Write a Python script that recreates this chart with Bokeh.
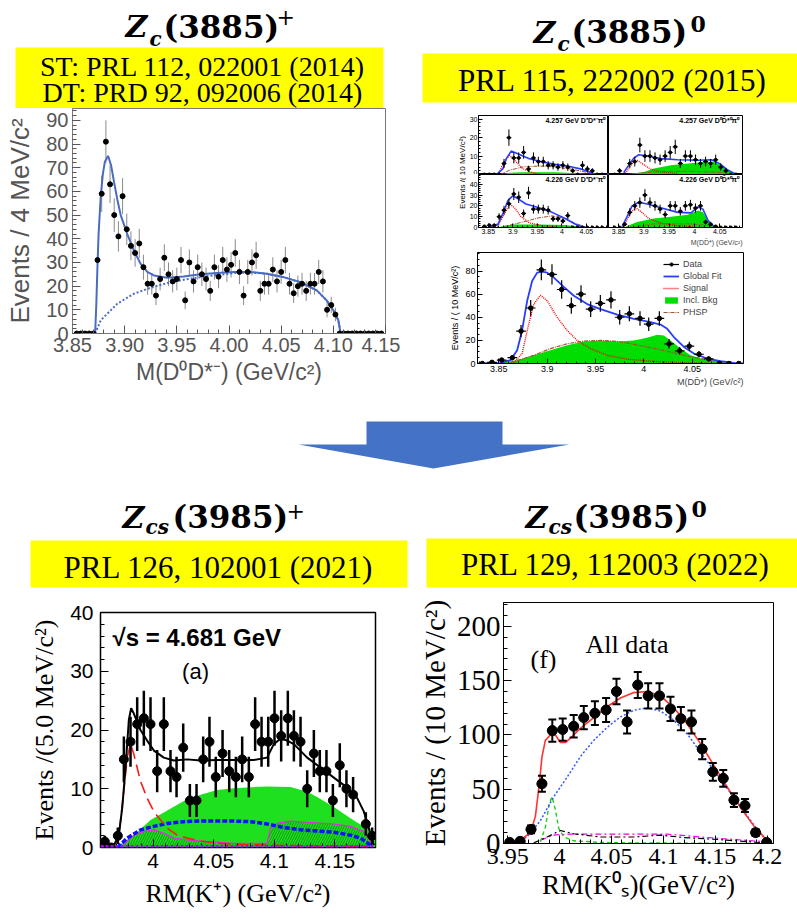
import numpy as np
from bokeh.plotting import figure
from bokeh.layouts import row, column
from bokeh.models import (Range1d, FixedTicker, NumeralTickFormatter, CustomJSTickFormatter,
                          Legend, LegendItem, Span, Title)
from bokeh.core.properties import value
from bokeh.embed import file_html
from bokeh.resources import INLINE

# ======================= DATA =======================
# --- Zc(3885)+ : M(D0 D*-), 4 MeV bins ---
zcp_first_center = 3.854
zcp_bin = 0.004
zcp_counts = [0, 0, 0, 0, 0,
              31, 59, 81, 63, 50, 41, 58, 44, 37, 34,
              38, 28, 21, 21, 16, 23, 32, 25, 22, 23,
              31, 14, 30, 22, 28, 25, 23, 18, 28, 24,
              31, 27, 29, 34, 26, 16, 26, 30, 33, 18,
              21, 21, 27, 22, 26, 31, 21, 17, 20, 21,
              18, 21, 21, 26, 22, 10, 12, 8,
              0, 0, 0, 0, 0, 0, 0, 0, 0, 0, 0]
zcp_fit_x = [3.8717, 3.8728, 3.8739, 3.875, 3.8771, 3.879, 3.881, 3.8841, 3.887, 3.8898,
             3.893, 3.8962, 3.9025, 3.9089, 3.9153, 3.9217, 3.928, 3.9408, 3.9567, 3.9726,
             3.9885, 4.0045, 4.0204, 4.0363, 4.0522, 4.0682, 4.0841, 4.0936, 4.10, 4.1048, 4.107]
zcp_fit_y = [0, 12, 28, 42, 58, 67, 72.5, 75, 71, 64,
             56.5, 50, 42, 35, 29.4, 26, 24.5, 23.5, 24.1, 25,
             25.5, 26, 26, 25.2, 23.8, 21.7, 18.2, 14, 9.8, 5.6, 0]
zcp_bkg_x = [3.8717, 3.8771, 3.893, 3.9089, 3.9248, 3.9408, 3.9567, 3.9726, 3.9885, 4.0045,
             4.0204, 4.0363, 4.0522, 4.0682, 4.0841, 4.0936, 4.10, 4.1048, 4.107]
zcp_bkg_y = [0, 5.6, 12.6, 16.8, 19.3, 21.3, 22.7, 23.8, 24.7, 25.5,
             25.8, 25.2, 23.8, 21.7, 18.2, 14, 9.8, 5.6, 0]

# --- Zc(3885)0 : four small panels, 10 MeV bins ---
sm_x = [3.842, 3.852, 3.862, 3.872, 3.882, 3.892, 3.902, 3.912, 3.922, 3.932, 3.942, 3.952,
        3.962, 3.972, 3.982, 3.992, 4.002, 4.012, 4.022, 4.032, 4.042, 4.052, 4.062, 4.072, 4.082]
s1_counts = [0, 0, 0, 0, 6, 20, 9, 9, 12, 3, 9, 7, 7, 5, 5, 4, 5, 4, 2, 0, 5, 3, 2, 0, 0]
s2_counts = [0, 2, 0, 6, 7, 16, 10, 10, 9, 8, 10, 12, 15, 6, 10, 10, 8, 6, 7, 6, 8, 4, 2, 0, 0]
s3_counts = [1, 2, 2, 10, 16, 22, 31, 28, 13, 32, 17, 17, 17, 16, 8, 8, 6, 11, 0, 0, 0, 0, 0, 0, 0]
s4_counts = [0, 0, 3, 14, 20, 23, 30, 23, 20, 17, 12, 20, 20, 15, 20, 21, 18, 20, 5, 3, 1, 0, 0, 0, 0]

s1_fit = ([3.8667, 3.88, 3.8867, 3.8967, 3.91, 3.9334, 3.96, 3.9867, 4.0134, 4.04, 4.06, 4.07],
          [0, 3.2, 8.6, 12.7, 11.2, 8.6, 6.8, 5.5, 4.5, 2.9, 0.9, 0])
s1_sig = ([3.87, 3.8834, 3.8934, 3.9034, 3.92, 3.94, 3.96], [0, 7.7, 10.4, 7.7, 3.2, 1, 0])
s1_phsp = ([3.8734, 3.8934, 3.92, 3.9534, 3.9867, 4.02, 4.0534, 4.0667], [0, 2.3, 4.1, 4.6, 4.1, 2.9, 1, 0])
s1_bkg = ([3.8734, 3.8934, 3.92, 3.9867, 4.02, 4.0534, 4.0667], [0, 1, 1.2, 1.2, 0.8, 0.4, 0])

s2_fit = ([3.86, 3.87, 3.88, 3.89, 3.9067, 3.9334, 3.9667, 4.0067, 4.0334, 4.05, 4.0667, 4.0801],
          [1, 5, 8.9, 10.7, 10, 8.6, 8, 7.7, 8, 5.9, 2.3, 0.4])
s2_sig = ([3.8633, 3.8767, 3.8867, 3.8967, 3.9134, 3.9334, 3.9667], [0.5, 5.9, 7.7, 5.9, 2.9, 1.4, 0.5])
s2_phsp = ([3.8667, 3.92, 3.9867, 4.0534, 4.0801], [0, 1.4, 1.8, 1.1, 0])
s2_bkg = ([3.8633, 3.90, 3.92, 3.9534, 3.9867, 4.02, 4.04, 4.0534, 4.07, 4.0801],
          [0, 1.4, 3.2, 5, 5.9, 6.8, 6.8, 5, 1.4, 0])

s3_fit = ([3.8533, 3.87, 3.88, 3.89, 3.90, 3.91, 3.9267, 3.9534, 3.98, 4.0067, 4.0267, 4.04, 4.0534],
          [0.3, 3.3, 13, 25, 29.3, 26.7, 21.7, 18.3, 14, 8.3, 3.3, 0.7, 0])
s3_sig = ([3.86, 3.87, 3.8834, 3.8934, 3.9034, 3.9167, 3.9334, 3.96, 3.9867],
          [0, 1.7, 13, 21.7, 18.3, 10, 4.3, 1.7, 0.7])
s3_phsp = ([3.88, 3.92, 3.9534, 3.98, 4.0067, 4.0267, 4.0467], [0.7, 5, 9, 10.7, 8.3, 4, 0.7])
s3_bkg = ([3.8734, 3.90, 3.9534, 4.0067, 4.04, 4.0467], [0.7, 2.7, 2.7, 2.3, 0.7, 0])

s4_fit = ([3.8567, 3.8667, 3.8767, 3.89, 3.9067, 3.9334, 3.9667, 3.9934, 4.0067, 4.0167, 4.0267, 4.0367, 4.0467],
          [0.7, 10, 20, 23.3, 21.7, 18.3, 14, 13.5, 19, 17, 6.7, 1.7, 0])
s4_sig = ([3.86, 3.8734, 3.8834, 3.8934, 3.91, 3.9334, 3.9667, 4.00], [0.7, 13.3, 18.3, 15, 8.3, 4, 1.7, 0.7])
s4_phsp = ([3.8734, 3.92, 3.9867, 4.0334, 4.0534], [0, 3.3, 3.3, 1.7, 0])
s4_bkg = ([3.86, 3.8867, 3.92, 3.9534, 3.9867, 4.0067, 4.0167, 4.0267, 4.0367],
          [0, 5, 8.3, 10, 11.7, 15.7, 14, 6.7, 0.7])

s_labels = ["4.257 GeV D\u207aD*\u207b\u03c0\u2070", "4.257 GeV D\u2070D\u0304*\u2070\u03c0\u2070",
            "4.226 GeV D\u207aD*\u207b\u03c0\u2070", "4.226 GeV D\u2070D\u0304*\u2070\u03c0\u2070"]

# --- Zc(3885)0 : combined panel ---
bg_x = [3.833, 3.843, 3.853, 3.864, 3.873, 3.883, 3.894, 3.905, 3.915, 3.925,
        3.935, 3.945, 3.955, 3.966, 3.975, 3.985, 3.996, 4.005, 4.016, 4.026,
        4.037, 4.047, 4.057, 4.067, 4.078, 4.088, 4.098]
bg_counts = [0, 1, 3, 5, 28, 48, 81, 77, 64, 50, 60, 47, 52, 55, 40, 43, 39, 34, 39, 17,
             11, 15, 8, 4, 0, 0, 0]
bg_fit = ([3.8276, 3.8517, 3.8621, 3.869, 3.8741, 3.8793, 3.8845, 3.8897, 3.8948, 3.9,
           3.9069, 3.9172, 3.9276, 3.9414, 3.9552, 3.9724, 3.9897, 4.0069, 4.0172, 4.0241,
           4.031, 4.0414, 4.0517, 4.0655, 4.0793, 4.0931, 4.1034],
          [0, 0.6, 2.9, 11.4, 28.6, 54, 71.4, 78.6, 79.4, 78.6,
           74.3, 66.3, 58.6, 51.4, 47, 42.3, 38.6, 35.7, 33.7, 30,
           22.9, 14.3, 8.6, 4.3, 2, 0.6, 0])
bg_sig = ([3.8655, 3.8741, 3.881, 3.8862, 3.8931, 3.9, 3.9103, 3.9207, 3.931, 3.9448,
           3.9621, 3.9828, 4.0069, 4.0414, 4.0759],
          [0.6, 8.6, 34.3, 51.4, 59, 54.3, 40, 28.6, 20, 12.9, 7.1, 3.7, 2, 0.6, 0])
bg_bkg = ([3.8517, 3.869, 3.8862, 3.9034, 3.9207, 3.9379, 3.9552, 3.9724, 3.9897, 4.0034,
           4.0138, 4.0207, 4.0276, 4.0379, 4.0483, 4.0586, 4.0759, 4.0931, 4.1034],
          [0.6, 2.9, 7.1, 11.4, 15.7, 19.1, 20, 19.1, 20, 22.3,
           24.9, 24.3, 20, 12.9, 7.1, 4.3, 2, 0.6, 0])
bg_phsp = ([3.8621, 3.8862, 3.9034, 3.9207, 3.9379, 3.9552, 3.9724, 3.9897, 4.0069, 4.0241,
            4.0414, 4.0586, 4.0759, 4.0931],
           [0.6, 7.1, 12.9, 17.1, 19.4, 20, 19.1, 16.6, 13.7, 10.6, 7.1, 4.3, 2, 0.6])

# --- Zcs(3985)+ : RM(K+) ---
zsp_x = [3.9601, 3.9653, 3.9708, 3.9758, 3.9813, 3.9868, 3.9923, 3.9978, 4.0033, 4.0088,
         4.0143, 4.0193, 4.0248, 4.0303, 4.0358, 4.0413, 4.0465, 4.0517, 4.0573, 4.0628,
         4.0683, 4.0735, 4.079, 4.0842, 4.0895, 4.095, 4.1002, 4.1057, 4.1112, 4.1162,
         4.1217, 4.1272, 4.1327, 4.1376, 4.1431, 4.1484, 4.1541, 4.1596, 4.1651, 4.1756, 4.1808]
zsp_counts = [1, 0, 2, 15, 18, 21, 22, 21, 13, 21, 13, 12, 17, 8, 8, 15, 18, 12, 16, 13,
              12, 15, 12, 21, 18, 18, 22, 19, 22, 19, 18, 10, 16, 13, 13, 8, 14, 10, 9, 4, 2]
zsp_fit = ([3.9601, 3.9675, 3.9716, 3.9744, 3.9772, 3.9799, 3.9818, 3.984, 3.9895, 3.995,
            4.0006, 4.0088, 4.0171, 4.0281, 4.0391, 4.0528, 4.0666, 4.0831, 4.0941, 4.0996,
            4.1051, 4.1107, 4.1162, 4.1272, 4.1382, 4.1492, 4.1602, 4.1685, 4.174, 4.1781, 4.1822],
           [0.5, 0.4, 2, 6.7, 13.6, 21.7, 23.7, 22.8, 20, 18.2,
            16.5, 15.3, 14.8, 15, 14.8, 14.9, 14.9, 14.9, 15.3, 17.6,
            18.5, 18.2, 17.6, 15.3, 13.6, 11.9, 10.2, 8.4, 6.1, 3.3, 0.4])
zsp_sig = ([3.9675, 3.9716, 3.9752, 3.9785, 3.9813, 3.984, 3.9895, 3.995, 4.0006, 4.0061,
            4.0116, 4.0198, 4.0281, 4.0391, 4.0556, 4.0721, 4.0941, 4.1217, 4.1767],
           [0.1, 2, 8.4, 15.3, 17.6, 15.9, 11.3, 8.4, 6.1, 4.7, 3.3, 2.1, 1.6, 1.1, 0.7, 0.5, 0.4, 0.3, 0.2])
zsp_bkg = ([3.9689, 3.984, 3.9978, 4.0116, 4.0253, 4.0391, 4.0528, 4.0666, 4.0941, 4.1134,
            4.1272, 4.1354, 4.1492, 4.1629, 4.1767, 4.1836],
           [0, 2.1, 4.7, 6.3, 7.9, 9.0, 9.8, 10.1, 10.4, 10.3, 9.5, 8.6, 6.9, 5.0, 3.2, 2.2])
zsp_blue = ([3.9703, 3.9785, 3.9895, 4.0006, 4.0116, 4.0253, 4.0391, 4.0666, 4.0804, 4.0941,
             4.1079, 4.1217, 4.1354, 4.1492, 4.1629, 4.1712, 4.1795],
            [0, 1.6, 3, 3.6, 4.1, 4.4, 4.5, 4.5, 4.4, 4, 3.4, 3, 2.8, 2.6, 2.1, 1.6, 0.4])
zsp_hatch = ([3.973, 3.984, 3.9923, 4.0006, 4.0088, 4.0171, 4.0281, 4.0391, 4.0666, 4.0941,
              4.0969, 4.1024, 4.1134, 4.1272, 4.1492, 4.1629, 4.174, 4.1795, 4.181],
             [0, 2.1, 2.7, 3, 2.4, 1.6, 1.3, 1.1, 0.7, 0.7, 3.3, 4.1, 4.5, 4.3, 4, 3.6, 2.7, 1, 0])

# --- Zcs(3985)0 : RM(K0S) ---
zs0_x = [3.952, 3.962, 3.9725, 3.983, 3.993, 4.003, 4.0136, 4.0233, 4.034, 4.0448,
         4.0548, 4.065, 4.0753, 4.0853, 4.0962, 4.1068, 4.1168, 4.127, 4.1373, 4.1476,
         4.1576, 4.1679, 4.1785, 4.1888, 4.1994]
zs0_counts = [1, 2, 13, 55, 104, 105, 108, 116, 120, 123, 140, 112, 146, 136, 136, 124,
              115, 112, 87, 66, 60, 40, 35, 10, 1]
zs0_fit = ([3.95, 3.9622, 3.9719, 3.9767, 3.9799, 3.9831, 3.9863, 3.9911, 3.996, 4.0008,
            4.0056, 4.0104, 4.02, 4.0329, 4.0458, 4.0586, 4.0715, 4.0843, 4.0972, 4.11,
            4.1229, 4.1357, 4.1486, 4.1614, 4.1743, 4.1872, 4.1968, 4.2032],
           [0, 3, 10, 25, 50, 80, 95, 100, 100, 93, 93, 97, 106, 116, 126, 134, 139, 140, 136, 125,
            110, 92, 72, 52, 33, 16, 6, 0])
zs0_bkg = ([3.9558, 3.9686, 3.9815, 3.9943, 4.0072, 4.02, 4.0329, 4.0458, 4.0586, 4.0715,
            4.0843, 4.0972, 4.11, 4.1229, 4.1357, 4.1486, 4.1614, 4.1743, 4.1872, 4.2],
           [0, 6, 21, 43, 61, 80, 95, 107, 116.6, 122.7, 125, 122, 113.5, 101, 84, 67.5, 50.6,
            33.7, 17, 1.5])
zs0_sig = ([3.9815, 3.9863, 3.9902, 3.9927, 3.996, 3.9992, 4.004, 4.0136, 4.0393, 4.0715, 4.1357, 4.2],
           [1.5, 15, 37, 43, 31, 14, 6, 2.5, 1, 0.5, 0.3, 0])
zs0_dd = ([3.9751, 3.9879, 4.0008, 4.0136, 4.0393, 4.0715, 4.0972, 4.1197, 4.1518, 4.1839, 4.2],
          [0.6, 6, 12, 9, 6, 6, 7.7, 5.5, 3.7, 1.5, 0])
zs0_mg = ([3.9815, 3.9943, 4.0072, 4.0393, 4.0715, 4.1036, 4.1357, 4.1679, 4.2],
          [3, 7.7, 8.6, 8.6, 8.6, 8.6, 6, 3.7, 1.5])

# ======================= STYLE / HELPERS =======================
SANS = "Liberation Sans"
SERIF = "Liberation Serif"
TFONT = "DejaVu Serif"
YELLOW = "#ffff00"
ARROW = "#4472c4"
GREEN = "#00dd00"
BLUE = "#2a3cff"
BROWN = "#a0522d"


def deco(w, h, flip=True):
    p = figure(width=w, height=h, x_range=Range1d(0, w),
               y_range=Range1d(h, 0) if flip else Range1d(0, h),
               output_backend="svg", toolbar_location=None,
               x_axis_location=None, y_axis_location=None,
               min_border_left=0, min_border_right=0, min_border_top=0, min_border_bottom=0)
    p.outline_line_color = None
    p.xgrid.visible = False
    p.ygrid.visible = False
    return p


def put(p, x, y, s, size, font=SERIF, style="normal", align="left", color="black", angle=0.0):
    # (x, y) is the visual centre line of the text
    p.text(x=[x], y=[y], text=[s], text_font=value(font), text_font_size=value(f"{size}px"),
           text_font_style=style, text_align=align, text_baseline="middle",
           text_color=color, angle=angle)


def zc_title(p, xZ, xsub, xnum, xsup, cy, sub_cy, sup_cy, sub, num, sup, sup_style, sup_size):
    put(p, xZ, cy, "Z", 30, TFONT, "bold italic")
    put(p, xsub, sub_cy, sub, 20, TFONT, "bold italic")
    put(p, xnum, cy, num, 31, TFONT, "bold")
    put(p, xsup, sup_cy, sup, sup_size, TFONT, sup_style)


def chart(w, h, xr, yr, bl, br, bt, bb, x_loc="below", y_loc="left"):
    p = figure(width=w, height=h, x_range=Range1d(xr[0], xr[1]), y_range=Range1d(yr[0], yr[1]),
               output_backend="svg", toolbar_location=None,
               x_axis_location=x_loc, y_axis_location=y_loc,
               min_border_left=bl, min_border_right=br, min_border_top=bt, min_border_bottom=bb)
    p.xgrid.visible = False
    p.ygrid.visible = False
    p.outline_line_color = "black"
    return p


def axis_style(ax, ticks, minor, font, size, color="black", tin=8, mtin=4, standoff=4, fmt=None,
               label=None, lfont=None, lsize=None, lcolor=None, lstand=5):
    ax.ticker = FixedTicker(ticks=list(ticks), minor_ticks=list(minor))
    ax.major_tick_in = tin
    ax.major_tick_out = 0
    ax.minor_tick_in = mtin
    ax.minor_tick_out = 0
    ax.major_label_text_font = font
    ax.major_label_text_font_size = f"{size}px"
    ax.major_label_text_color = color
    ax.major_label_standoff = standoff
    ax.axis_line_color = color
    ax.major_tick_line_color = color
    ax.minor_tick_line_color = color
    if fmt is not None:
        ax.formatter = fmt
    if label is not None:
        ax.axis_label = label
        ax.axis_label_text_font = lfont or font
        ax.axis_label_text_font_size = f"{lsize}px"
        ax.axis_label_text_font_style = "normal"
        ax.axis_label_text_color = lcolor or color
        ax.axis_label_standoff = lstand


TRIM = CustomJSTickFormatter(code="return Number(tick.toFixed(3)).toString();")


def frange(a, b, s):
    return np.round(np.arange(a, b + s / 2, s), 4).tolist()


def box(p):
    # wrap a plot so that Bokeh does not align its frame with its siblings
    return row(p)


# ======================= TOP LEFT =======================
h1 = deco(400, 108)
h1.quad(left=[15], right=[383], top=[47], bottom=[108], fill_color=YELLOW, line_color=None)
zc_title(h1, 125, 149, 163, 276, 26, 38, 16, "c", "(3885)", "+", "normal", 22)
put(h1, 202, 65.5, "ST: PRL 112, 022001 (2014)", 28, align="center")
put(h1, 202, 91.5, "DT: PRD 92, 092006 (2014)", 28, align="center")

p1 = chart(400, 290, (3.85, 4.15), (0, 95), 72, 15, 0, 65)
p1.outline_line_color = "#777777"
axis_style(p1.xaxis, [3.85, 3.90, 3.95, 4.00, 4.05, 4.10, 4.15], frange(3.85, 4.15, 0.01), SANS, 20,
           "#555555", tin=8, mtin=4, standoff=4, fmt=NumeralTickFormatter(format="0.00"),
           label="M(D\u2070D*\u207b) (GeV/c\u00b2)", lsize=23, lstand=4)
axis_style(p1.yaxis, list(range(0, 91, 10)), list(range(0, 95, 2)), SANS, 20, "#555555",
           tin=8, mtin=4, standoff=4, label="Events / 4 MeV/c\u00b2", lsize=26, lstand=8)
p1.xaxis.axis_line_color = "#777777"
p1.yaxis.axis_line_color = "#777777"
zcp_x = zcp_first_center + zcp_bin * np.arange(len(zcp_counts))
zcp_y = np.array(zcp_counts, dtype=float)
zcp_e = np.sqrt(zcp_y)
p1.segment(x0=zcp_x, y0=zcp_y - zcp_e, x1=zcp_x, y1=zcp_y + zcp_e, line_color="#8a8a8a", line_width=1)
p1.line(zcp_bkg_x, zcp_bkg_y, line_color="#4a6cc0", line_width=2, line_dash="2 2")
p1.line(zcp_fit_x, zcp_fit_y, line_color="#4a6cc0", line_width=2)
p1.scatter(zcp_x, zcp_y, size=5, color="black")

# ======================= TOP RIGHT =======================
h2 = deco(397, 108)
h2.quad(left=[22], right=[397], top=[53], bottom=[102], fill_color=YELLOW, line_color=None)
zc_title(h2, 133, 157, 171, 290, 31.5, 43, 23.5, "c", "(3885)", "0", "bold", 22)
put(h2, 212, 79.5, "PRL 115, 222002 (2015)", 31, align="center")

ylab = deco(66, 141, flip=False)
put(ylab, 62, 77, "Events /( 10 MeV/c\u00b2)", 8, SANS, angle=np.pi / 2, align="center")


def small(w, h, bl, br, bt, bb, ytop, yticks, counts, fit, sig, bkg, phsp, label, left, bottom):
    p = chart(w, h, (3.83, 4.095), (0, ytop), bl, br, bt, bb,
              x_loc="below" if bottom else None, y_loc="left" if left else None)
    if left:
        axis_style(p.yaxis, yticks, frange(0, ytop, 2), SANS, 7, tin=4, mtin=2, standoff=1)
    if bottom:
        axis_style(p.xaxis, [3.85, 3.9, 3.95, 4.0, 4.05], frange(3.83, 4.09, 0.01), SANS, 7,
                   tin=4, mtin=2, standoff=1, fmt=TRIM)
    p.varea(x=bkg[0], y1=0, y2=bkg[1], fill_color=GREEN)
    p.line(phsp[0], phsp[1], line_color=BROWN, line_dash="4 1 1 1", line_width=1)
    p.line(sig[0], sig[1], line_color="red", line_dash="1 1", line_width=1.3)
    p.line(fit[0], fit[1], line_color=BLUE, line_width=1.6)
    xs = np.array(sm_x)
    ys = np.array(counts, dtype=float)
    es = np.sqrt(ys)
    p.segment(x0=xs, y0=ys - es, x1=xs, y1=ys + es, line_color="black", line_width=1)
    p.segment(x0=xs - 0.005, y0=ys, x1=xs + 0.005, y1=ys, line_color="black", line_width=1)
    p.scatter(xs, ys, size=3, color="black")
    p.text(x=[4.088], y=[ytop * 0.97], text=[label], text_align="right", text_baseline="top",
           text_font=value(SANS), text_font_size=value("7px"), text_font_style="bold")
    return p


sTL = small(142, 66, 10, 0, 7, 0, 32, [0, 10, 20, 30], s1_counts, s1_fit, s1_sig, s1_bkg, s1_phsp,
            s_labels[0], True, False)
sTR = small(189, 66, 0, 55, 7, 0, 32, [0, 10, 20, 30], s2_counts, s2_fit, s2_sig, s2_bkg, s2_phsp,
            s_labels[1], False, False)
sBL = small(142, 75, 10, 0, 0, 22, 49, [0, 10, 20, 30, 40], s3_counts, s3_fit, s3_sig, s3_bkg, s3_phsp,
            s_labels[2], True, True)
sBR = small(189, 75, 0, 55, 0, 22, 49, [0, 10, 20, 30, 40], s4_counts, s4_fit, s4_sig, s4_bkg, s4_phsp,
            s_labels[3], False, True)
sBR.add_layout(Title(text="M(DD\u0304*) (GeV/c\u00b2)", align="right", text_font=SANS,
                     text_font_size="7px", text_font_style="normal", standoff=0, offset=0), "below")

big = chart(397, 149, (3.828, 4.103), (0, 96), 77, 54, 3, 35)
axis_style(big.xaxis, [3.85, 3.9, 3.95, 4.0, 4.05], frange(3.83, 4.10, 0.01), SANS, 9, tin=5, mtin=2,
           standoff=2, fmt=TRIM)
axis_style(big.yaxis, [0, 20, 40, 60, 80], frange(0, 95, 5), SANS, 9, tin=5, mtin=2, standoff=2,
           label="Events / ( 10 MeV/c\u00b2)", lsize=9, lstand=2)
r_bkg = big.varea(x=bg_bkg[0], y1=0, y2=bg_bkg[1], fill_color=GREEN)
r_phsp = big.line(bg_phsp[0], bg_phsp[1], line_color=BROWN, line_dash="4 1 1 1", line_width=1.2)
r_sig = big.line(bg_sig[0], bg_sig[1], line_color="red", line_dash="1 1", line_width=1.4)
r_fit = big.line(bg_fit[0], bg_fit[1], line_color=BLUE, line_width=1.8)
bx = np.array(bg_x)
by = np.array(bg_counts, dtype=float)
be = np.sqrt(by)
big.segment(x0=bx, y0=by - be, x1=bx, y1=by + be, line_color="black", line_width=1.2)
r_hb = big.segment(x0=bx - 0.005, y0=by, x1=bx + 0.005, y1=by, line_color="black", line_width=1.2)
r_pts = big.scatter(bx, by, size=4.5, color="black")
leg = Legend(items=[LegendItem(label="Data", renderers=[r_hb, r_pts]),
                    LegendItem(label="Global Fit", renderers=[r_fit]),
                    LegendItem(label="Signal", renderers=[r_sig]),
                    LegendItem(label="Incl. Bkg", renderers=[r_bkg]),
                    LegendItem(label="PHSP", renderers=[r_phsp])],
             location=(186, 46), label_text_font=SANS, label_text_font_size="9px",
             glyph_width=16, glyph_height=8, label_height=8, label_standoff=4, spacing=2,
             padding=2, margin=0, border_line_color=None, background_fill_alpha=0)
big.add_layout(leg)
big.add_layout(Title(text="M(DD\u0304*) (GeV/c\u00b2)", align="right", text_font=SANS,
                     text_font_size="9px", text_font_style="normal", standoff=0, offset=0), "below")

# ======================= ARROW =======================
arr = deco(797, 92)
arr.quad(left=[366], right=[502], top=[23], bottom=[47], fill_color=ARROW, line_color=None)
arr.patch([298, 569, 433], [46, 46, 70], fill_color=ARROW, line_color=None)

# ======================= BOTTOM HEADERS =======================
h3 = deco(412, 105)
h3.quad(left=[30], right=[407], top=[50], bottom=[97], fill_color=YELLOW, line_color=None)
zc_title(h3, 122, 145, 172, 286, 26.5, 36.5, 20, "cs", "(3985)", "+", "normal", 22)
put(h3, 218, 76.5, "PRL 126, 102001 (2021)", 31, align="center")

h4 = deco(385, 105)
h4.quad(left=[14], right=[385], top=[48], bottom=[97], fill_color=YELLOW, line_color=None)
zc_title(h4, 113, 136, 161, 279, 26.5, 36.5, 18, "cs", "(3985)", "0", "bold", 22)
put(h4, 203, 73.5, "PRL 129, 112003 (2022)", 31, align="center")

# ======================= BOTTOM LEFT =======================
pbl = chart(400, 320, (3.9565, 4.1836), (0, 40), 100, 25, 17, 68)
pbl.outline_line_width = 1.5
axis_style(pbl.xaxis, [4.0, 4.05, 4.1, 4.15], frange(3.96, 4.18, 0.01), SANS, 21, tin=8, mtin=4,
           standoff=6, fmt=TRIM, label="RM(K\u207a) (GeV/c\u00b2)", lfont=SERIF, lsize=26, lstand=8)
axis_style(pbl.yaxis, [0, 10, 20, 30, 40], frange(0, 40, 2), SANS, 21, tin=8, mtin=4, standoff=7,
           label="Events /(5.0 MeV/c\u00b2)", lfont=SERIF, lsize=26, lstand=8)
pbl.varea(x=zsp_bkg[0], y1=0, y2=zsp_bkg[1], fill_color="#1ee01e")
pbl.varea(x=zsp_hatch[0], y1=0, y2=zsp_hatch[1], fill_alpha=0, hatch_pattern="/",
          hatch_color="#119911", hatch_scale=5, hatch_weight=1)
pbl.line(zsp_hatch[0], zsp_hatch[1], line_color="#ee22ee", line_width=1.2)
pbl.line(zsp_blue[0], zsp_blue[1], line_color="#1010ff", line_width=3.5, line_dash="5 2")
pbl.line(zsp_sig[0], zsp_sig[1], line_color="#ff1a1a", line_width=1.6, line_dash="12 6")
pbl.line(zsp_fit[0], zsp_fit[1], line_color="black", line_width=2)
pbl.add_layout(Span(location=0.15, dimension="width", line_color="#b000ff", line_width=3, line_dash="3 2"))
lx = np.array(zsp_x)
ly = np.array(zsp_counts, dtype=float)
le = np.sqrt(ly)
pbl.segment(x0=lx, y0=ly - le, x1=lx, y1=ly + le, line_color="black", line_width=2.5)
pbl.scatter(lx, ly, size=9, color="black")
pbl.text(x=[3.9664], y=[35.7], text=["\u221as = 4.681 GeV"], text_font=value(SANS),
         text_font_size=value("24px"), text_font_style="bold", text_baseline="middle")
pbl.text(x=[4.035], y=[30.0], text=["(a)"], text_font=value(SANS), text_font_size=value("22px"),
         text_align="center", text_baseline="middle")

# ======================= BOTTOM RIGHT =======================
pbr = chart(397, 320, (3.946, 4.206), (0, 222), 103, 24, 7, 72)
axis_style(pbr.xaxis, [3.95, 4.0, 4.05, 4.1, 4.15, 4.2], frange(3.95, 4.2, 0.01), SERIF, 24, tin=8,
           mtin=4, standoff=5, fmt=TRIM, label="RM(K\u2070\u209b)(GeV/c\u00b2)", lfont=SERIF,
           lsize=27, lstand=3)
axis_style(pbr.yaxis, [0, 50, 100, 150, 200], frange(0, 220, 10), SERIF, 29, tin=8, mtin=4, standoff=3,
           label="Events / (10 MeV/c\u00b2)", lfont=SERIF, lsize=29, lstand=3)
pbr.line(zs0_mg[0], zs0_mg[1], line_color="#ee00ee", line_width=1.2, line_dash="6 3 2 3")
pbr.line(zs0_dd[0], zs0_dd[1], line_color="black", line_width=1.2, line_dash="6 3 2 3")
pbr.line(zs0_sig[0], zs0_sig[1], line_color="#22cc22", line_width=1.4, line_dash="4 3")
pbr.line(zs0_bkg[0], zs0_bkg[1], line_color="#3355ff", line_width=1.5, line_dash="2 2")
pbr.line(zs0_fit[0], zs0_fit[1], line_color="#ff3333", line_width=1.6)
rx = np.array(zs0_x)
ry = np.array(zs0_counts, dtype=float)
re_ = np.sqrt(ry)
pbr.segment(x0=rx, y0=ry - re_, x1=rx, y1=ry + re_, line_color="black", line_width=2)
pbr.segment(x0=rx - 0.005, y0=ry, x1=rx + 0.005, y1=ry, line_color="black", line_width=2)
pbr.scatter(np.concatenate([rx, rx]), np.concatenate([ry - re_, ry + re_]), marker="dash", size=8,
            line_color="black", line_width=2)
pbr.scatter(rx, ry, size=10, color="black")
pbr.text(x=[3.972], y=[169.5], text=["(f)"], text_font=value(SERIF), text_font_size=value("26px"),
         text_baseline="middle")
pbr.text(x=[4.025], y=[183], text=["All data"], text_font=value(SERIF), text_font_size=value("26px"),
         text_baseline="middle")

# ======================= LAYOUT =======================
grid = column(row(sTL, sTR), row(sBL, sBR))
top = row(column(box(h1), box(p1)),
          column(box(h2), row(ylab, grid), box(big)))
layout = column(top, box(arr), row(box(h3), box(h4)), row(box(pbl), box(pbr)))

open("out.html", "w").write(file_html(layout, INLINE, title="Zc and Zcs"))
